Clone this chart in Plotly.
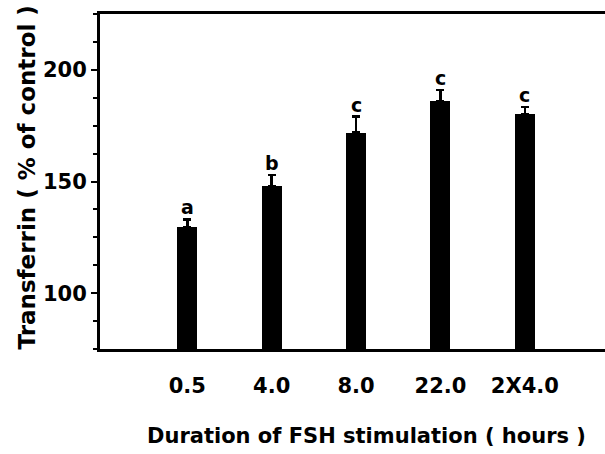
import plotly.graph_objects as go

categories = ["0.5", "4.0", "8.0", "22.0", "2X4.0"]
means = [129.7, 147.8, 171.9, 186.1, 180.1]
sems = [3.3, 5.1, 7.1, 4.9, 3.3]
letters = ["a", "b", "c", "c", "c"]
y_ticks = [100, 150, 200]

FONT = "DejaVu Sans"
fig = go.Figure()
fig.add_trace(go.Bar(
    x=categories, y=means, width=0.237,
    marker=dict(color="black", line=dict(width=0)),
    error_y=dict(type="data", array=sems, arrayminus=[0]*len(sems), symmetric=False,
                 color="black", thickness=2.5, width=4),
    showlegend=False,
))

for i, (m, s, l) in enumerate(zip(means, sems, letters)):
    fig.add_annotation(x=i, y=m + s, text=l, showarrow=False, yanchor="middle",
                       yshift=12, font=dict(family=FONT, size=19, color="black", weight="bold"))

fig.add_annotation(xref="paper", yref="paper", x=0, y=0.5, xshift=-74, yshift=4,
                   xanchor="center", yanchor="middle",
                   text="Transferrin ( % of control )", textangle=-90, showarrow=False,
                   font=dict(family=FONT, size=23, color="black", weight="bold"))
fig.add_annotation(xref="paper", yref="paper", x=0.5, y=0, xshift=14, yshift=-87,
                   xanchor="center", yanchor="middle",
                   text="Duration of FSH stimulation ( hours )", showarrow=False,
                   font=dict(family=FONT, size=21, color="black", weight="bold"))

fig.update_layout(
    width=605, height=454,
    margin=dict(l=100, r=0, t=14, b=105),
    plot_bgcolor="white", paper_bgcolor="white",
    bargap=0,
)
fig.update_xaxes(
    type="category", range=[-1.034, 4.95],
    showline=True, linecolor="black", linewidth=3, mirror=True,
    ticks="", showgrid=False, zeroline=False,
    ticklabelstandoff=16,
    tickfont=dict(family=FONT, size=21, color="black", weight="bold"),
)
fig.update_yaxes(
    range=[75, 225], tickvals=y_ticks,
    showline=True, linecolor="black", linewidth=3,
    ticks="outside", ticklen=6, tickwidth=2, tickcolor="black",
    minor=dict(ticks="outside", ticklen=4, tickwidth=2, tickcolor="black", dtick=12.5, tick0=75),
    showgrid=False, zeroline=False,
    tickfont=dict(family=FONT, size=21, color="black", weight="bold"),
)

fig.write_html("out.html")
